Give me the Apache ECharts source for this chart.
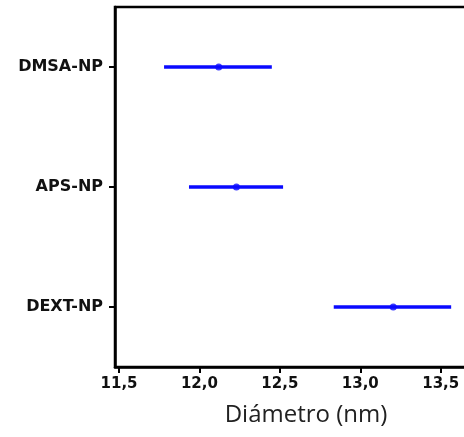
<!DOCTYPE html>
<html>
<head>
<meta charset="utf-8">
<script src="https://cdn.jsdelivr.net/npm/echarts@6/dist/echarts.min.js"></script>
<style>html,body{margin:0;padding:0;background:#fff;}#c{width:464px;height:437px;}</style>
</head>
<body>
<div id="c"></div>
<script>
const categories = ['DMSA-NP', 'APS-NP', 'DEXT-NP'];
const means = [12.12, 12.23, 13.205];
const lows = [11.78, 11.935, 12.835];
const highs = [12.45, 12.52, 13.565];
const xTicks = [11.5, 12.0, 12.5, 13.0, 13.5];

const chart = echarts.init(document.getElementById('c'), null, {renderer: 'canvas'});
const barData = categories.map((c, i) => [i, lows[i], highs[i]]);
const blue = '#0a0aff';
chart.setOption({
  animation: false,
  grid: {left: 115, top: 7, right: -33, bottom: 70, outerBoundsMode: 'none', containLabel: false,
    show: true, borderColor: '#000', borderWidth: 2.5},
  xAxis: {
    type: 'value', min: 11.475, max: 13.85,
    name: 'Diámetro (nm)', nameLocation: 'middle', nameGap: 36,
    nameTextStyle: {fontFamily: 'Open Sans', fontSize: 24, color: '#222'},
    axisLine: {show: true, lineStyle: {color: '#000', width: 2.5}},
    axisTick: {show: true, customValues: xTicks, length: 6, lineStyle: {color: '#000', width: 2}},
    axisLabel: {customValues: xTicks, margin: 10, fontFamily: 'DejaVu Sans', fontWeight: 'bold', fontSize: 15, color: '#111',
      formatter: v => v.toFixed(1).replace('.', ',')},
    splitLine: {show: false}
  },
  yAxis: {
    type: 'category', data: categories, inverse: true,
    axisLine: {show: true, lineStyle: {color: '#000', width: 2.5}},
    axisTick: {show: true, alignWithLabel: true, length: 6, lineStyle: {color: '#000', width: 2}},
    axisLabel: {margin: 12, fontFamily: 'DejaVu Sans', fontWeight: 'bold', fontSize: 16, color: '#111'},
    splitLine: {show: false}
  },
  series: [
    {
      type: 'custom',
      data: barData,
      encode: {y: 0, x: [1, 2]},
      renderItem: function (params, api) {
        const cat = api.value(0);
        const p1 = api.coord([api.value(1), cat]);
        const p2 = api.coord([api.value(2), cat]);
        return {type: 'line', shape: {x1: p1[0], y1: p1[1], x2: p2[0], y2: p2[1]},
          style: {stroke: blue, lineWidth: 3.5}};
      }
    },
    {
      type: 'scatter',
      data: means.map((m, i) => [m, categories[i]]),
      symbol: 'circle', symbolSize: 7,
      itemStyle: {color: blue}
    }
  ]
});
</script>
</body>
</html>
